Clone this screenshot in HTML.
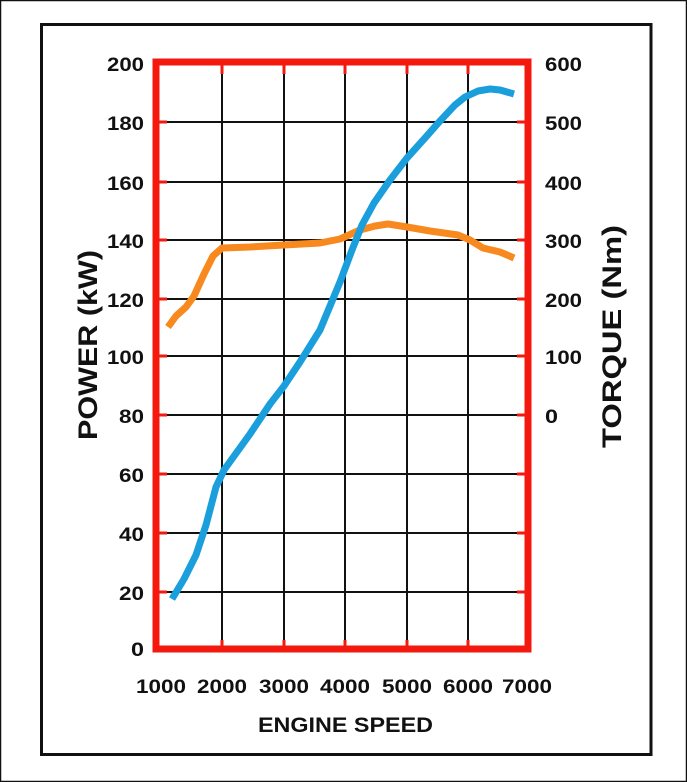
<!DOCTYPE html>
<html><head><meta charset="utf-8"><style>
html,body{margin:0;padding:0;background:#fff;}
svg{display:block;}
text{font-family:"Liberation Sans",sans-serif;font-weight:bold;fill:#111;}
</style></head><body>
<svg width="687" height="782" viewBox="0 0 687 782" xmlns="http://www.w3.org/2000/svg">
<rect x="0.5" y="0.5" width="686" height="781" fill="#fff" stroke="#111" stroke-width="1.5"/>
<rect x="41.5" y="24.5" width="609.5" height="730" fill="#fff" stroke="#111" stroke-width="3"/>
<g stroke="#111" stroke-width="2">
<line x1="222" y1="62" x2="222" y2="650"/>
<line x1="284" y1="62" x2="284" y2="650"/>
<line x1="345" y1="62" x2="345" y2="650"/>
<line x1="407" y1="62" x2="407" y2="650"/>
<line x1="468" y1="62" x2="468" y2="650"/>
<line x1="158" y1="122" x2="528" y2="122"/>
<line x1="158" y1="182" x2="528" y2="182"/>
<line x1="158" y1="240" x2="528" y2="240"/>
<line x1="158" y1="299" x2="528" y2="299"/>
<line x1="158" y1="356" x2="528" y2="356"/>
<line x1="158" y1="415" x2="528" y2="415"/>
<line x1="158" y1="474" x2="528" y2="474"/>
<line x1="158" y1="533" x2="528" y2="533"/>
<line x1="158" y1="592" x2="528" y2="592"/>
</g>
<g stroke="#f4190f" stroke-width="3">
<line x1="222" y1="63" x2="222" y2="74"/><line x1="284" y1="63" x2="284" y2="74"/><line x1="345" y1="63" x2="345" y2="74"/><line x1="407" y1="63" x2="407" y2="74"/><line x1="468" y1="63" x2="468" y2="74"/>
<line x1="222" y1="649" x2="222" y2="640"/><line x1="284" y1="649" x2="284" y2="640"/><line x1="345" y1="649" x2="345" y2="640"/><line x1="407" y1="649" x2="407" y2="640"/><line x1="468" y1="649" x2="468" y2="640"/>
<line x1="156" y1="122" x2="167" y2="122"/><line x1="156" y1="182" x2="167" y2="182"/><line x1="156" y1="240" x2="167" y2="240"/><line x1="156" y1="299" x2="167" y2="299"/><line x1="156" y1="356" x2="167" y2="356"/><line x1="156" y1="415" x2="167" y2="415"/><line x1="156" y1="474" x2="167" y2="474"/><line x1="156" y1="533" x2="167" y2="533"/><line x1="156" y1="592" x2="167" y2="592"/>
<line x1="529" y1="122" x2="517" y2="122"/><line x1="529" y1="182" x2="517" y2="182"/><line x1="529" y1="240" x2="517" y2="240"/><line x1="529" y1="299" x2="517" y2="299"/><line x1="529" y1="356" x2="517" y2="356"/><line x1="529" y1="415" x2="517" y2="415"/><line x1="529" y1="474" x2="517" y2="474"/><line x1="529" y1="533" x2="517" y2="533"/><line x1="529" y1="592" x2="517" y2="592"/>
</g>
<rect x="156" y="62" width="372" height="587" fill="none" stroke="#f4190f" stroke-width="7"/>
<polyline fill="none" stroke="#f7891e" stroke-width="7" stroke-linejoin="round" stroke-linecap="butt"
points="168,327 176,316 186,307 194,296 204,274 213,256 222,248 250,247 284,245 320,243 340,239 360,230 375,226 388,224 407,227 430,231 458,235 470,240 483,248 500,252 514,258"/>
<polyline fill="none" stroke="#1a9fdc" stroke-width="7" stroke-linejoin="round" stroke-linecap="butt"
points="172,599 184,579 196,555 206,525 216,487 224,470 250,434 270,404 284,386 300,362 320,330 340,282 352,250 362,225 374,203 390,180 407,158 425,138 440,121 455,105 465,97 478,91 490,89 500,90 514,94"/>
<g font-size="19">
<text x="107" y="71" textLength="37" lengthAdjust="spacingAndGlyphs">200</text>
<text x="107" y="130" textLength="37" lengthAdjust="spacingAndGlyphs">180</text>
<text x="107" y="190" textLength="37" lengthAdjust="spacingAndGlyphs">160</text>
<text x="107" y="248" textLength="37" lengthAdjust="spacingAndGlyphs">140</text>
<text x="107" y="307" textLength="37" lengthAdjust="spacingAndGlyphs">120</text>
<text x="107" y="364" textLength="37" lengthAdjust="spacingAndGlyphs">100</text>
<text x="119" y="423" textLength="25" lengthAdjust="spacingAndGlyphs">80</text>
<text x="119" y="482" textLength="25" lengthAdjust="spacingAndGlyphs">60</text>
<text x="119" y="541" textLength="25" lengthAdjust="spacingAndGlyphs">40</text>
<text x="119" y="600" textLength="25" lengthAdjust="spacingAndGlyphs">20</text>
<text x="131" y="656" textLength="13" lengthAdjust="spacingAndGlyphs">0</text>
</g>
<g font-size="19">
<text x="545" y="71" textLength="37" lengthAdjust="spacingAndGlyphs">600</text>
<text x="545" y="130" textLength="37" lengthAdjust="spacingAndGlyphs">500</text>
<text x="545" y="190" textLength="37" lengthAdjust="spacingAndGlyphs">400</text>
<text x="545" y="248" textLength="37" lengthAdjust="spacingAndGlyphs">300</text>
<text x="545" y="307" textLength="37" lengthAdjust="spacingAndGlyphs">200</text>
<text x="545" y="364" textLength="37" lengthAdjust="spacingAndGlyphs">100</text>
<text x="545" y="423" textLength="13" lengthAdjust="spacingAndGlyphs">0</text>
</g>
<g font-size="19">
<text x="136" y="693" textLength="50" lengthAdjust="spacingAndGlyphs">1000</text>
<text x="197" y="693" textLength="50" lengthAdjust="spacingAndGlyphs">2000</text>
<text x="259" y="693" textLength="50" lengthAdjust="spacingAndGlyphs">3000</text>
<text x="320" y="693" textLength="50" lengthAdjust="spacingAndGlyphs">4000</text>
<text x="382" y="693" textLength="50" lengthAdjust="spacingAndGlyphs">5000</text>
<text x="443" y="693" textLength="50" lengthAdjust="spacingAndGlyphs">6000</text>
<text x="502" y="693" textLength="50" lengthAdjust="spacingAndGlyphs">7000</text>
</g>
<text x="258" y="732" font-size="21" textLength="175" lengthAdjust="spacingAndGlyphs">ENGINE SPEED</text>
<text transform="translate(97,440) rotate(-90)" font-size="27" textLength="190" lengthAdjust="spacingAndGlyphs">POWER (kW)</text>
<text transform="translate(621,448) rotate(-90)" font-size="27" textLength="223" lengthAdjust="spacingAndGlyphs">TORQUE (Nm)</text>
</svg>
</body></html>
